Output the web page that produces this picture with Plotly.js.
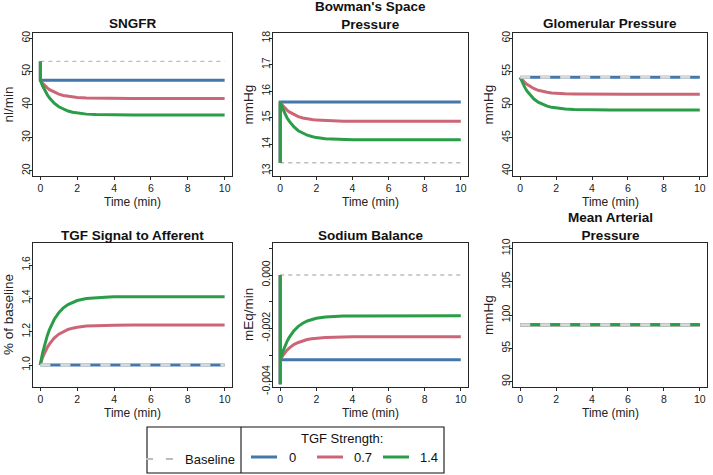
<!DOCTYPE html>
<html><head><meta charset="utf-8">
<script src="https://cdn.plot.ly/plotly-3.0.1.min.js"></script>
<style>html,body{margin:0;padding:0;background:#fff;}#chart{width:713px;height:475px;}</style>
</head><body><div id="chart"></div>
<script>
// ---------- DATA ----------
const time = [0, 0, 0, 0.125, 0.25, 0.375, 0.5, 0.75, 1, 1.25, 1.5, 1.75, 2, 2.5, 3, 3.5, 4, 5, 6, 7, 8, 9, 10];
const baselineTime = [0, 10];

const sngfrBase = [53, 53];
const sngfr0  = [53, 47.3, 47.3, 47.3, 47.3, 47.3, 47.3, 47.3, 47.3, 47.3, 47.3, 47.3, 47.3, 47.3, 47.3, 47.3, 47.3, 47.3, 47.3, 47.3, 47.3, 47.3, 47.3];
const sngfr07 = [53, 47.3, 47.3, 46.40, 45.65, 45.02, 44.49, 43.69, 43.12, 42.72, 42.44, 42.25, 42.11, 41.95, 41.88, 41.84, 41.82, 41.8, 41.8, 41.8, 41.8, 41.8, 41.8];
const sngfr14 = [53, 47.3, 47.3, 45.58, 44.15, 42.94, 41.94, 40.40, 39.32, 38.56, 38.03, 37.66, 37.40, 37.09, 36.95, 36.87, 36.83, 36.8, 36.8, 36.8, 36.8, 36.8, 36.8];

const bowBase = [13.3, 13.3];
const bow0  = [13.3, 15.59, 15.59, 15.59, 15.59, 15.59, 15.59, 15.59, 15.59, 15.59, 15.59, 15.59, 15.59, 15.59, 15.59, 15.59, 15.59, 15.59, 15.59, 15.59, 15.59, 15.59, 15.59];
const bow07 = [13.3, 15.59, 15.59, 15.47, 15.37, 15.29, 15.22, 15.12, 15.04, 14.99, 14.95, 14.93, 14.91, 14.89, 14.88, 14.87, 14.87, 14.87, 14.87, 14.87, 14.87, 14.87, 14.87];
const bow14 = [13.3, 15.59, 15.59, 15.36, 15.16, 15.00, 14.87, 14.66, 14.51, 14.41, 14.34, 14.29, 14.25, 14.21, 14.19, 14.18, 14.17, 14.17, 14.17, 14.17, 14.17, 14.17, 14.17];

const glomBase = [54.1, 54.1];
const glom0  = [54.1, 54.1, 54.1, 54.1, 54.1, 54.1, 54.1, 54.1, 54.1, 54.1, 54.1, 54.1, 54.1, 54.1, 54.1, 54.1, 54.1, 54.1, 54.1, 54.1, 54.1, 54.1, 54.1];
const glom07 = [54.1, 54.1, 54.1, 53.68, 53.33, 53.04, 52.79, 52.42, 52.15, 51.97, 51.84, 51.75, 51.69, 51.61, 51.58, 51.56, 51.55, 51.54, 51.54, 51.54, 51.54, 51.54, 51.54];
const glom14 = [54.1, 54.1, 54.1, 53.29, 52.62, 52.05, 51.59, 50.86, 50.35, 50.00, 49.75, 49.57, 49.45, 49.31, 49.24, 49.20, 49.18, 49.17, 49.17, 49.17, 49.17, 49.17, 49.17];

const tgfBase = [1.0, 1.0];
const tgf0  = [1.0, 1.0, 1.0, 1.0, 1.0, 1.0, 1.0, 1.0, 1.0, 1.0, 1.0, 1.0, 1.0, 1.0, 1.0, 1.0, 1.0, 1.0, 1.0, 1.0, 1.0, 1.0, 1.0];
const tgf07 = [1.0, 1.005, 1.005, 1.048, 1.079, 1.105, 1.127, 1.161, 1.185, 1.201, 1.213, 1.221, 1.227, 1.234, 1.237, 1.238, 1.239, 1.24, 1.24, 1.24, 1.24, 1.24, 1.24];
const tgf14 = [1.0, 1.005, 1.005, 1.075, 1.13, 1.176, 1.214, 1.273, 1.314, 1.343, 1.363, 1.377, 1.387, 1.399, 1.404, 1.407, 1.409, 1.41, 1.41, 1.41, 1.41, 1.41, 1.41];

const naBase = [0, 0];
const na0  = [0, -0.0041, -0.00318, -0.00318, -0.00318, -0.00318, -0.00318, -0.00318, -0.00318, -0.00318, -0.00318, -0.00318, -0.00318, -0.00318, -0.00318, -0.00318, -0.00318, -0.00318, -0.00318, -0.00318, -0.00318, -0.00318, -0.00318];
const na07 = [0, -0.0041, -0.00318, -0.00304, -0.00292, -0.00282, -0.00274, -0.00261, -0.00253, -0.00246, -0.00242, -0.00239, -0.00237, -0.00234, -0.00233, -0.00232, -0.00232, -0.00232, -0.00232, -0.00232, -0.00232, -0.00232, -0.00232];
const na14 = [0, -0.0041, -0.00318, -0.00291, -0.002685, -0.002495, -0.002338, -0.002096, -0.001926, -0.001807, -0.001723, -0.001665, -0.001624, -0.001576, -0.001553, -0.001542, -0.001535, -0.00153, -0.00153, -0.00153, -0.00153, -0.00153, -0.00153];

const mapBase = [98.55, 98.55];
const map0  = [98.55, 98.55, 98.55, 98.55, 98.55, 98.55, 98.55, 98.55, 98.55, 98.55, 98.55, 98.55, 98.55, 98.55, 98.55, 98.55, 98.55, 98.55, 98.55, 98.55, 98.55, 98.55, 98.55];
const map07 = [98.55, 98.55, 98.55, 98.55, 98.55, 98.55, 98.55, 98.55, 98.55, 98.55, 98.55, 98.55, 98.55, 98.55, 98.55, 98.55, 98.55, 98.55, 98.55, 98.55, 98.55, 98.55, 98.55];
const map14 = [98.55, 98.55, 98.55, 98.55, 98.55, 98.55, 98.55, 98.55, 98.55, 98.55, 98.55, 98.55, 98.55, 98.55, 98.55, 98.55, 98.55, 98.55, 98.55, 98.55, 98.55, 98.55, 98.55];

const panelTitles = ["SNGFR", "Bowman's Space<br>Pressure", "Glomerular Pressure", "TGF Signal to Afferent", "Sodium Balance", "Mean Arterial<br>Pressure"];
const yLabels = ["nl/min", "mmHg", "mmHg", "% of baseline", "mEq/min", "mmHg"];
const xLabel = "Time (min)";
const xTicks = [0, 2, 4, 6, 8, 10];
const xTickLabels = ["0", "2", "4", "6", "8", "10"];
const yTicks1 = [20, 30, 40, 50, 60];           const yTickLabels1 = ["20", "30", "40", "50", "60"];
const yTicks2 = [13, 14, 15, 16, 17, 18];       const yTickLabels2 = ["13", "14", "15", "16", "17", "18"];
const yTicks3 = [40, 45, 50, 55, 60];           const yTickLabels3 = ["40", "45", "50", "55", "60"];
const yTicks4 = [1.0, 1.2, 1.4, 1.6];           const yTickLabels4 = ["1.0", "1.2", "1.4", "1.6"];
const yTicks5 = [-0.004, -0.003, -0.002, -0.001, 0, 0.001]; const yTickLabels5 = ["-0.004", "", "-0.002", "", "0.000", ""];
const yTicks6 = [90, 95, 100, 105, 110];        const yTickLabels6 = ["90", "95", "100", "105", "110"];
const seriesNames = ["0", "0.7", "1.4"];
const legendTitle = "TGF Strength:";
const baselineName = "Baseline";

// ---------- STYLE ----------
const W = 713, H = 475;
const FONT = "Liberation Sans, Arial, Helvetica, sans-serif";
const COLORS = ["#4477AA", "#CC6677", "#2A9D48"];
const BASE_THIN = {color: "#BDBDBD", width: 1.3, dash: "4px,4px"};
const BASE_THICK = {color: "#D9D9D9", width: 3, dash: "10px,10px"};
const LW = 3;

const px2x = p => p / W;
const px2y = p => 1 - p / H;

const colsPx = [[33, 232], [273, 468], [513, 707]];
const rowsPx = [[33, 176], [243, 387]];
const yRanges = [[18.4, 61.6], [12.8, 18.2], [39.2, 60.8], [0.868, 1.732], [-0.0042, 0.0012], [89.2, 110.8]];
const yTickSets = [[yTicks1, yTickLabels1], [yTicks2, yTickLabels2], [yTicks3, yTickLabels3], [yTicks4, yTickLabels4], [yTicks5, yTickLabels5], [yTicks6, yTickLabels6]];

const seriesData = [
  [sngfr0, sngfr07, sngfr14, sngfrBase, false],
  [bow0, bow07, bow14, bowBase, false],
  [glom0, glom07, glom14, glomBase, true],
  [tgf0, tgf07, tgf14, tgfBase, true],
  [na0, na07, na14, naBase, false],
  [map0, map07, map14, mapBase, true]
];

const traces = [];
const layout = {
  width: W, height: H,
  margin: {l: 0, r: 0, t: 0, b: 0},
  paper_bgcolor: "#fff", plot_bgcolor: "#fff",
  showlegend: false,
  font: {family: FONT, color: "#222"},
  annotations: [], shapes: []
};

seriesData.forEach((s, i) => {
  const k = i + 1;
  const xa = k === 1 ? "x" : "x" + k;
  const ya = k === 1 ? "y" : "y" + k;
  const baseOnTop = s[4];
  const baseTrace = {x: baselineTime, y: s[3], xaxis: xa, yaxis: ya, mode: "lines", name: baselineName,
    line: baseOnTop ? BASE_THICK : BASE_THIN, hoverinfo: "skip"};
  if (!baseOnTop) traces.push(baseTrace);
  for (let j = 0; j < 3; j++) {
    traces.push({x: time, y: s[j], xaxis: xa, yaxis: ya, mode: "lines", name: seriesNames[j],
      line: {color: COLORS[j], width: LW, shape: "linear"}});
  }
  if (baseOnTop) traces.push(baseTrace);

  const col = colsPx[i % 3], row = rowsPx[Math.floor(i / 3)];
  const axCommon = {showline: true, mirror: true, linecolor: "#262626", linewidth: 1.1,
    ticks: "outside", ticklen: 3, tickwidth: 1, tickcolor: "#262626", showgrid: false, zeroline: false,
    tickfont: {family: FONT, size: 10.5, color: "#222"}, fixedrange: true};
  layout[k === 1 ? "xaxis" : "xaxis" + k] = Object.assign({}, axCommon, {
    domain: [px2x(col[0]), px2x(col[1])], anchor: ya, range: [-0.4, 10.4],
    tickmode: "array", tickvals: xTicks, ticktext: xTickLabels, ticklabelstandoff: -1});
  layout[k === 1 ? "yaxis" : "yaxis" + k] = Object.assign({}, axCommon, {
    domain: [px2y(row[1]), px2y(row[0])], anchor: xa, range: yRanges[i],
    tickmode: "array", tickvals: yTickSets[i][0], ticktext: yTickSets[i][1], tickangle: -90,
    ticklabelstandoff: -5});

  const cx = (col[0] + col[1]) / 2;
  const twoLine = panelTitles[i].indexOf("<br>") >= 0;
  const titleCy = (i < 3 ? 24 : 235) - (twoLine ? 8.5 : 0);
  layout.annotations.push({text: "<b>" + panelTitles[i].replace("<br>", "</b><br><b>") + "</b>", xref: "paper", yref: "paper",
    x: px2x(cx), y: px2y(titleCy), xanchor: "center", yanchor: "middle", showarrow: false,
    font: {family: FONT, size: 13.5, color: "#111"}});
  layout.annotations.push({text: xLabel, xref: "paper", yref: "paper",
    x: px2x(cx), y: px2y(row[1] + 26), xanchor: "center", yanchor: "middle", showarrow: false,
    font: {family: FONT, size: 12, color: "#222"}});
  layout.annotations.push({text: yLabels[i], xref: "paper", yref: "paper", textangle: -90,
    x: px2x(col[0] - 25), y: px2y((row[0] + row[1]) / 2), xanchor: "center", yanchor: "middle", showarrow: false,
    font: {family: FONT, size: 13.5, color: "#222"}});
});

// ---------- LEGEND (drawn as a boxed key) ----------
const L = {left: 147, right: 444, top: 427, bottom: 473, div: 241, rowY: 457};
layout.shapes.push({type: "rect", xref: "paper", yref: "paper", x0: px2x(L.left), x1: px2x(L.right), y0: px2y(L.bottom), y1: px2y(L.top),
  line: {color: "#111", width: 1.1}});
layout.shapes.push({type: "line", xref: "paper", yref: "paper", x0: px2x(L.div), x1: px2x(L.div), y0: px2y(L.bottom), y1: px2y(L.top),
  line: {color: "#111", width: 1.1}});
layout.shapes.push({type: "line", xref: "paper", yref: "paper", x0: px2x(146), x1: px2x(174), y0: px2y(L.rowY + 2), y1: px2y(L.rowY + 2),
  line: {color: "#BDBDBD", width: 2, dash: "7px,13px"}});
layout.annotations.push({text: baselineName, xref: "paper", yref: "paper", x: px2x(183), y: px2y(L.rowY + 2),
  xanchor: "left", yanchor: "middle", showarrow: false, font: {family: FONT, size: 13, color: "#111"}});
layout.annotations.push({text: legendTitle, xref: "paper", yref: "paper", x: px2x(342), y: px2y(438),
  xanchor: "center", yanchor: "middle", showarrow: false, font: {family: FONT, size: 13, color: "#111"}});
const keyX = [[251, 277, 292], [317, 343, 363], [383, 409, 429]];
keyX.forEach((kx, j) => {
  layout.shapes.push({type: "line", xref: "paper", yref: "paper", x0: px2x(kx[0]), x1: px2x(kx[1]), y0: px2y(L.rowY), y1: px2y(L.rowY),
    line: {color: COLORS[j], width: 3}});
  layout.annotations.push({text: seriesNames[j], xref: "paper", yref: "paper", x: px2x(kx[2]), y: px2y(L.rowY),
    xanchor: "center", yanchor: "middle", showarrow: false, font: {family: FONT, size: 13, color: "#111"}});
});

Plotly.newPlot("chart", traces, layout, {staticPlot: true, displayModeBar: false});
</script>
</body></html>
